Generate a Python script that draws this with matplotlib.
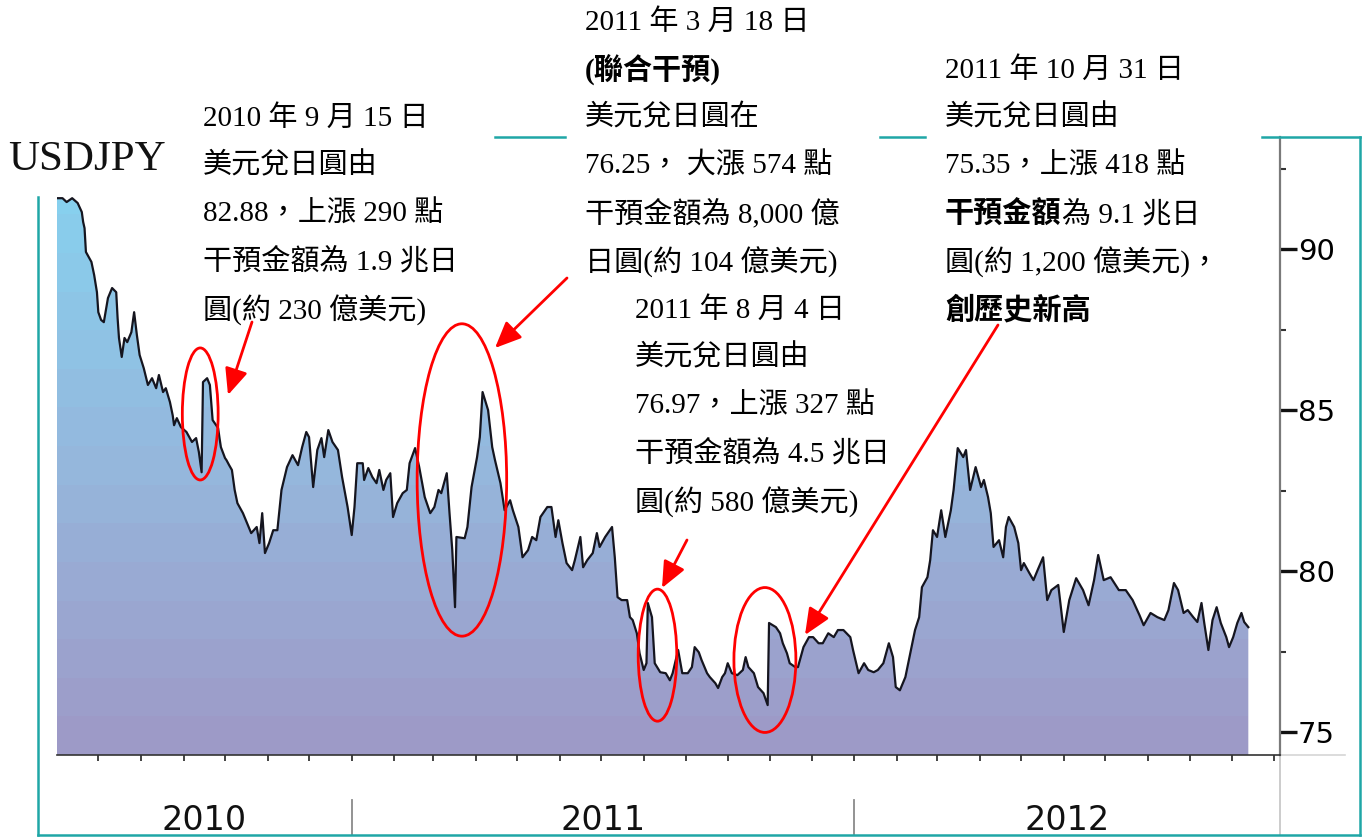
import matplotlib
matplotlib.use("Agg")
import matplotlib.pyplot as plt
import matplotlib.dates as mdates
import matplotlib.transforms as mtransforms
from matplotlib.patches import Ellipse, FancyArrowPatch
from matplotlib.lines import Line2D
import numpy as np
import pandas as pd

# ---------------- data ----------------
dates = [
    "2010-06-01", "2010-06-05", "2010-06-08", "2010-06-12", "2010-06-16", "2010-06-19",
    "2010-06-20", "2010-06-21", "2010-06-22", "2010-06-26", "2010-06-28", "2010-06-30",
    "2010-07-01", "2010-07-03", "2010-07-05", "2010-07-08", "2010-07-11", "2010-07-14",
    "2010-07-15", "2010-07-16", "2010-07-18", "2010-07-20", "2010-07-22", "2010-07-25",
    "2010-07-27", "2010-07-29", "2010-07-31", "2010-08-03", "2010-08-06", "2010-08-09",
    "2010-08-12", "2010-08-14", "2010-08-17", "2010-08-19", "2010-08-22", "2010-08-24",
    "2010-08-25", "2010-08-27", "2010-08-30", "2010-09-03", "2010-09-07", "2010-09-10",
    "2010-09-12", "2010-09-14", "2010-09-15", "2010-09-18", "2010-09-20", "2010-09-22",
    "2010-09-26", "2010-09-27", "2010-09-28", "2010-10-01", "2010-10-02", "2010-10-04",
    "2010-10-06", "2010-10-08", "2010-10-10", "2010-10-14", "2010-10-17", "2010-10-20",
    "2010-10-24", "2010-10-26", "2010-10-28", "2010-10-30", "2010-11-02", "2010-11-05",
    "2010-11-08", "2010-11-11", "2010-11-15", "2010-11-19", "2010-11-23", "2010-11-26",
    "2010-11-29", "2010-12-01", "2010-12-04", "2010-12-07", "2010-12-10", "2010-12-12",
    "2010-12-15", "2010-12-18", "2010-12-22", "2010-12-25", "2010-12-29",
    "2011-01-01", "2011-01-03", "2011-01-05", "2011-01-09", "2011-01-10", "2011-01-13",
    "2011-01-16", "2011-01-19", "2011-01-21", "2011-01-24", "2011-01-26", "2011-01-29",
    "2011-01-31", "2011-02-03", "2011-02-07", "2011-02-10", "2011-02-12", "2011-02-16",
    "2011-02-19", "2011-02-23", "2011-02-27", "2011-03-02", "2011-03-05", "2011-03-07",
    "2011-03-11", "2011-03-13", "2011-03-15", "2011-03-17", "2011-03-18", "2011-03-24",
    "2011-03-26", "2011-03-29", "2011-04-02", "2011-04-04", "2011-04-06", "2011-04-10",
    "2011-04-13", "2011-04-15", "2011-04-19", "2011-04-22", "2011-04-26", "2011-04-28",
    "2011-05-02", "2011-05-05", "2011-05-09", "2011-05-12", "2011-05-15", "2011-05-18",
    "2011-05-23", "2011-05-26", "2011-05-29", "2011-05-31", "2011-06-03", "2011-06-06",
    "2011-06-10", "2011-06-12", "2011-06-16", "2011-06-18", "2011-06-21", "2011-06-25",
    "2011-06-28", "2011-06-30", "2011-07-04", "2011-07-09", "2011-07-11", "2011-07-13",
    "2011-07-16", "2011-07-20", "2011-07-22", "2011-07-24", "2011-07-27", "2011-07-29",
    "2011-08-01", "2011-08-03", "2011-08-04", "2011-08-07", "2011-08-09", "2011-08-13",
    "2011-08-17", "2011-08-20", "2011-08-22", "2011-08-26", "2011-08-29", "2011-09-02",
    "2011-09-05", "2011-09-07", "2011-09-10", "2011-09-12", "2011-09-16", "2011-09-18",
    "2011-09-22", "2011-09-24", "2011-09-27", "2011-09-29", "2011-10-01", "2011-10-04",
    "2011-10-08", "2011-10-12", "2011-10-14", "2011-10-16", "2011-10-20", "2011-10-23",
    "2011-10-27", "2011-10-30", "2011-10-31", "2011-11-05", "2011-11-08", "2011-11-10",
    "2011-11-13", "2011-11-15", "2011-11-19", "2011-11-21", "2011-11-25", "2011-11-29",
    "2011-12-02", "2011-12-06", "2011-12-09", "2011-12-13", "2011-12-17", "2011-12-20",
    "2011-12-24", "2011-12-29", "2011-12-31",
    "2012-01-04", "2012-01-08", "2012-01-11", "2012-01-15", "2012-01-18", "2012-01-22",
    "2012-01-26", "2012-01-29", "2012-01-31", "2012-02-03", "2012-02-07", "2012-02-11",
    "2012-02-14", "2012-02-17", "2012-02-19", "2012-02-23", "2012-02-25", "2012-02-27",
    "2012-03-01", "2012-03-04", "2012-03-07", "2012-03-11", "2012-03-13", "2012-03-16",
    "2012-03-20", "2012-03-22", "2012-03-25", "2012-03-29", "2012-04-02", "2012-04-04",
    "2012-04-07", "2012-04-09", "2012-04-11", "2012-04-15", "2012-04-18", "2012-04-20",
    "2012-04-22", "2012-04-26", "2012-04-29", "2012-05-01", "2012-05-03", "2012-05-07",
    "2012-05-10", "2012-05-13", "2012-05-17", "2012-05-20", "2012-05-23", "2012-05-28",
    "2012-06-01", "2012-06-05", "2012-06-10", "2012-06-15", "2012-06-19", "2012-06-23",
    "2012-06-26", "2012-06-30", "2012-07-05", "2012-07-11", "2012-07-16", "2012-07-21",
    "2012-07-26", "2012-07-29", "2012-08-03", "2012-08-08", "2012-08-13", "2012-08-16",
    "2012-08-20", "2012-08-23", "2012-08-27", "2012-08-30", "2012-09-03", "2012-09-06",
    "2012-09-09", "2012-09-11", "2012-09-14", "2012-09-17", "2012-09-20", "2012-09-23",
    "2012-09-27", "2012-09-29", "2012-10-02", "2012-10-05", "2012-10-08", "2012-10-10",
    "2012-10-13",
]

usdjpy = [
    91.58, 91.58, 91.46, 91.58, 91.43, 91.15,
    90.84, 90.65, 89.91, 89.60, 89.19, 88.66,
    88.04, 87.80, 87.73, 88.48, 88.79, 88.66,
    87.86, 87.24, 86.65, 87.24, 87.11, 87.42,
    88.04, 87.33, 86.71, 86.30, 85.78, 85.99,
    85.68, 86.09, 85.56, 85.68, 85.25, 84.84,
    84.53, 84.75, 84.47, 84.32, 84.01, 84.13,
    83.70, 83.07, 85.87, 85.99, 85.78, 84.69,
    84.44, 84.13, 83.85, 83.51, 83.45, 83.29,
    83.14, 82.52, 82.11, 81.80, 81.49, 81.18,
    81.37, 80.87, 81.80, 80.56, 80.87, 81.27,
    81.27, 82.52, 83.23, 83.60, 83.29, 83.85,
    84.32, 84.16, 82.61, 83.76, 84.13, 83.54,
    84.38, 84.01, 83.76, 82.92, 81.99,
    81.12, 81.99, 83.35, 83.35, 82.83, 83.20,
    82.92, 82.73, 83.14, 82.52, 82.83, 83.04,
    81.68, 82.11, 82.42, 82.52, 83.35, 83.82,
    83.23, 82.30, 81.80, 81.99, 82.52, 82.42,
    83.04, 81.80, 80.65, 78.88, 81.06, 81.02,
    81.37, 82.61, 83.54, 84.16, 85.56, 85.00,
    83.85, 83.45, 82.73, 81.89, 82.20, 81.89,
    81.37, 80.43, 80.65, 81.06, 80.96, 81.68,
    81.99, 81.99, 81.06, 81.58, 80.87, 80.25,
    80.03, 80.34, 81.06, 80.12, 80.34, 80.56,
    81.18, 80.75, 81.06, 81.37, 80.43, 79.19,
    79.10, 79.10, 78.57, 78.48, 78.07, 77.45,
    76.93, 77.14, 79.01, 78.57, 77.14, 76.86,
    76.83, 76.61, 76.83, 77.55, 76.83, 76.83,
    77.02, 77.64, 77.48, 77.24, 76.83, 76.71,
    76.52, 76.37, 76.71, 76.83, 77.14, 76.83,
    76.77, 76.93, 77.33, 77.02, 76.83, 76.40,
    76.21, 75.84, 78.39, 78.26, 78.07, 77.76,
    77.45, 77.14, 77.02, 77.02, 77.64, 77.95,
    77.95, 77.76, 77.76, 78.07, 77.95, 78.17,
    78.17, 77.95, 77.55,
    76.83, 77.14, 76.93, 76.86, 76.93, 77.14,
    77.76, 77.33, 76.40, 76.30, 76.71, 77.55,
    78.17, 78.57, 79.50, 79.81, 80.34, 81.27,
    81.06, 81.89, 81.06, 81.89, 82.52, 83.82,
    83.54, 83.76, 82.52, 83.23, 82.61, 82.83,
    82.30, 81.80, 80.75, 80.96, 80.43, 81.37,
    81.68, 81.37, 80.87, 80.03, 80.25, 79.94,
    79.72, 80.03, 80.43, 79.10, 79.41, 79.57,
    78.11, 79.10, 79.78, 79.41, 78.94, 79.72,
    80.50, 79.72, 79.81, 79.41, 79.41, 79.10,
    78.63, 78.32, 78.70, 78.57, 78.48, 78.79,
    79.63, 79.41, 78.70, 78.79, 78.57, 78.42,
    79.01, 78.39, 77.55, 78.48, 78.88, 78.39,
    77.95, 77.64, 77.95, 78.39, 78.70, 78.42,
    78.26,
]

y_major = [75, 80, 85, 90]
y_minor = [77.5, 82.5, 87.5, 92.5]
year_labels = ["2010", "2011", "2012"]

# intervention highlights: (centre date, centre level, width in days, height in yen)
highlights = [
    ("2010-09-13", 84.88, 26, 4.1),
    ("2011-03-22", 82.83, 65, 9.7),
    ("2011-08-11", 77.39, 28, 4.1),
    ("2011-10-28", 77.24, 45, 4.5),
]

W, H = 1367, 839
x_start, x_end = pd.Timestamp("2010-06-01"), pd.Timestamp("2012-11-05")
y_lo, y_hi = 74.29, 93.48

def fx(px):
    return px / W

def fy(py):
    return 1 - py / H

plt.rcParams["font.family"] = ["DejaVu Sans"]
TXT_FONT = ["Liberation Serif", "Noto Sans CJK TC"]
TXT_SIZE = 21
TEAL = "#1fa6a6"
RED = "#ff0000"

fig = plt.figure(figsize=(W / 100, H / 100), dpi=100)
fig.patch.set_facecolor("white")

ax_left, ax_right, ax_top, ax_bottom = 57, 1280, 137, 755
ax = fig.add_axes([fx(ax_left), fy(ax_bottom), (ax_right - ax_left) / W,
                   (ax_bottom - ax_top) / H])
ax.set_facecolor("none")

dt = pd.to_datetime(dates)
xnum = mdates.date2num(dt)
vals = np.array(usdjpy)

# banded vertical gradient clipped to the area under the line
n_bands = 16
stops_pos = [0.0, 0.45, 1.0]
stops_col = np.array([[158, 152, 198], [150, 182, 220], [132, 214, 242]]) / 255.0
centers = (np.arange(n_bands) + 0.5) / n_bands
band_rgb = np.stack([np.interp(centers, stops_pos, stops_col[:, k]) for k in range(3)], axis=1)
img = band_rgb[:, None, :]

area = ax.fill_between(xnum, vals, y_lo, facecolor="none", edgecolor="none")
clip_path = area.get_paths()[0]
grad = ax.imshow(img, extent=[xnum[0], xnum[-1], y_lo, y_hi], origin="lower",
                 aspect="auto", interpolation="nearest", zorder=1)
grad.set_clip_path(clip_path, ax.transData)

ax.plot(xnum, vals, color="#15151f", lw=1.6, zorder=3, solid_joinstyle="round")

ax.set_xlim(mdates.date2num(x_start), mdates.date2num(x_end))
ax.set_ylim(y_lo, y_hi)

# axes styling
for side in ("left", "top"):
    ax.spines[side].set_visible(False)
ax.spines["right"].set_color("#7a7a7a")
ax.spines["right"].set_linewidth(1.6)
ax.spines["bottom"].set_color("#333333")
ax.spines["bottom"].set_linewidth(1.2)

ax.yaxis.tick_right()
ax.set_yticks(y_major)
ax.set_yticks(y_minor, minor=True)
ax.set_yticklabels([str(v) for v in y_major])
ax.tick_params(axis="y", which="major", direction="out", length=12, width=2.4,
               color="#111111", labelsize=21, pad=1)
ax.tick_params(axis="y", which="minor", direction="out", length=4, width=1.5,
               color="#333333")

month_ticks = mdates.date2num(pd.date_range("2010-07-01", "2012-11-01", freq="MS"))
ax.set_xticks(month_ticks)
ax.set_xticklabels([])
ax.tick_params(axis="x", which="major", direction="out", length=4.5, width=1.2,
               color="#222222")

# year labels and separators under the axis
blend = mtransforms.blended_transform_factory(ax.transData, ax.transAxes)
y_sep_top = (ax_bottom - 800) / (ax_bottom - ax_top)
y_sep_bot = (ax_bottom - 835) / (ax_bottom - ax_top)
y_year = (ax_bottom - 820) / (ax_bottom - ax_top)
bounds = [x_start, pd.Timestamp("2011-01-01"), pd.Timestamp("2012-01-01"), x_end]
for i, lab in enumerate(year_labels):
    a, b = mdates.date2num(bounds[i]), mdates.date2num(bounds[i + 1])
    ax.text((a + b) / 2, y_year, lab, transform=blend, ha="center", va="center",
            fontsize=24, color="#111111")
for b in bounds[1:3]:
    ax.plot([mdates.date2num(b)] * 2, [y_sep_top, y_sep_bot], transform=blend,
            color="#8a8a8a", lw=1.3, clip_on=False)

# faint extensions of the axis lines
ax.plot([1.0, 1.0], [0, y_sep_bot], transform=ax.transAxes, color="#c8c8c8",
        lw=1.3, clip_on=False)
ax.plot([1.0, (1345 - ax_left) / (ax_right - ax_left)], [0, 0], transform=ax.transAxes,
        color="#d6d6d6", lw=1.2, clip_on=False)

# highlight ellipses
for d, lvl, wd, ht in highlights:
    ax.add_patch(Ellipse((mdates.date2num(pd.Timestamp(d)), lvl), wd, ht,
                         fill=False, edgecolor=RED, lw=2.0, zorder=5, clip_on=False))

# outer frame
frame_segments = [
    ([38, 38], [197, 835]),
    ([38, 1360], [835, 835]),
    ([1360, 1360], [137, 835]),
    ([495, 565], [137, 137]),
    ([880, 925], [137, 137]),
    ([1262, 1360], [137, 137]),
]
for xs, ys in frame_segments:
    fig.add_artist(Line2D([fx(v) for v in xs], [fy(v) for v in ys],
                          transform=fig.transFigure, color=TEAL, lw=1.8))

# title
fig.text(fx(8), fy(160), "USDJPY", family=["Liberation Serif"], fontsize=31,
         ha="left", va="center", color="#111111")

# annotation blocks; "<b>" marks a bold line, a tuple is (bold part, regular part)
def block(x, y0, lines, step=48):
    for i, item in enumerate(lines):
        y = y0 + i * step
        if isinstance(item, tuple):
            first = fig.text(fx(x), fy(y), item[0], family=TXT_FONT, fontsize=TXT_SIZE,
                             fontweight="bold", ha="left", va="center", color="black")
            ax.annotate(item[1], xy=(1, 0), xycoords=first, family=TXT_FONT,
                        fontsize=TXT_SIZE, ha="left", va="bottom", color="black",
                        annotation_clip=False)
        else:
            bold = item.startswith("<b>")
            txt = item[3:] if bold else item
            fig.text(fx(x), fy(y), txt, family=TXT_FONT, fontsize=TXT_SIZE,
                     fontweight="bold" if bold else "normal", ha="left",
                     va="center", color="black")

block(203, 118, ["2010 年 9 月 15 日", "美元兌日圓由", "82.88，上漲 290 點",
                 "干預金額為 1.9 兆日", "圓(約 230 億美元)"])
block(585, 22, ["2011 年 3 月 18 日", "<b>(聯合干預)", "美元兌日圓在",
                "76.25， 大漲 574 點", "干預金額為 8,000 億", "日圓(約 104 億美元)"])
block(635, 310, ["2011 年 8 月 4 日", "美元兌日圓由", "76.97，上漲 327 點",
                 "干預金額為 4.5 兆日", "圓(約 580 億美元)"])
block(945, 70, ["2011 年 10 月 31 日", "美元兌日圓由", "75.35，上漲 418 點",
                ("干預金額", "為 9.1 兆日"), "圓(約 1,200 億美元)，", "<b>創歷史新高"])

# arrows pointing at each intervention
arrows = [((252, 322), (228, 395)), ((567, 278), (495, 348)),
          ((687, 540), (662, 588)), ((998, 325), (805, 635))]
for tail, head in arrows:
    fig.add_artist(FancyArrowPatch(
        (fx(tail[0]), fy(tail[1])), (fx(head[0]), fy(head[1])),
        transform=fig.transFigure, arrowstyle="-|>,head_length=0.8,head_width=0.35",
        mutation_scale=20, color=RED, lw=2.0, shrinkA=0, shrinkB=0))

fig.savefig("out.png", dpi=100, facecolor="white")
